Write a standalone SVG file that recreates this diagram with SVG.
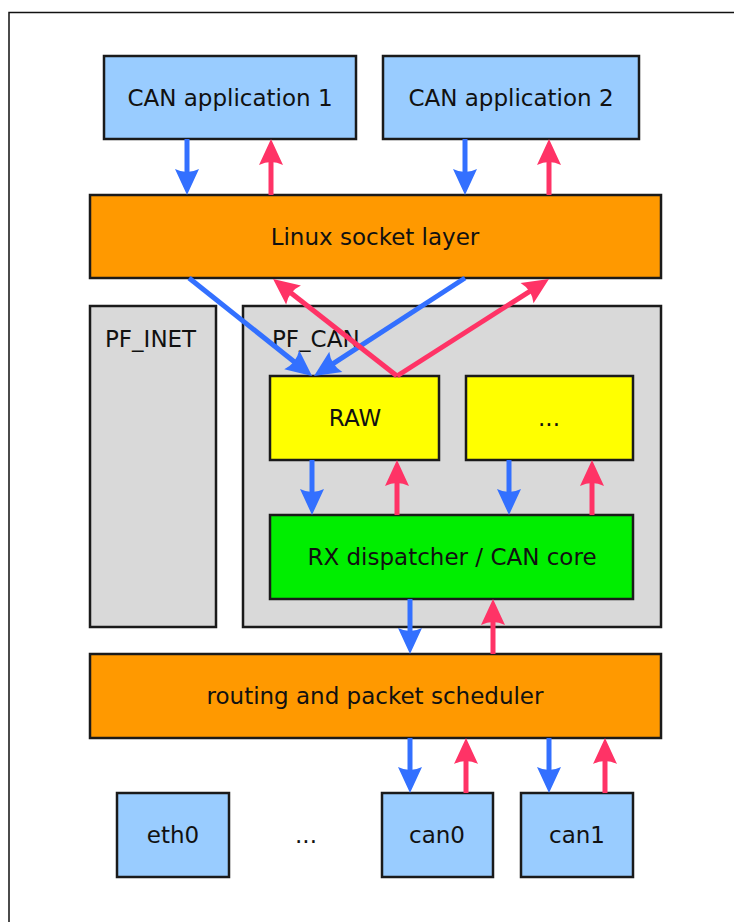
<svg xmlns="http://www.w3.org/2000/svg" width="734" height="922" viewBox="0 0 734 922">
<style>
.box{stroke:#1a1a1a;stroke-width:2.5}
.app{fill:#99ccff}
.orange{fill:#ff9900}
.gray{fill:#d9d9d9}
.yellow{fill:#ffff00}
.green{fill:#00ee00}
text{font-family:"DejaVu Sans","Liberation Sans",sans-serif;font-size:23px;fill:#111}
.c{text-anchor:middle}
.down{stroke:#3370ff;stroke-width:5;fill:none;marker-end:url(#hb)}
.up{stroke:#ff3366;stroke-width:5;fill:none;marker-end:url(#hr)}
</style>
<defs>
<marker id="hb" markerUnits="userSpaceOnUse" orient="auto" markerWidth="40" markerHeight="40" refX="0" refY="0" overflow="visible">
<path d="M20,0 L-6,-12 Q0,0 -6,12 Z" fill="#3370ff"/>
</marker>
<marker id="hr" markerUnits="userSpaceOnUse" orient="auto" markerWidth="40" markerHeight="40" refX="0" refY="0" overflow="visible">
<path d="M20,0 L-6,-12 Q0,0 -6,12 Z" fill="#ff3366"/>
</marker>
</defs>
<rect width="734" height="922" fill="#fff"/>
<path d="M9,922 V12.5 H734" fill="none" stroke="#111" stroke-width="1.5"/>

<g id="pf_inet"><rect class="box gray" x="90" y="306" width="126" height="321"/><text x="105" y="347">PF_INET</text></g>
<g id="pf_can"><rect class="box gray" x="243" y="306" width="418" height="321"/><text x="272" y="347">PF_CAN</text></g>

<g id="app1"><rect class="box app" x="104" y="56" width="252" height="83"/><text class="c" x="230" y="106">CAN application 1</text></g>
<g id="app2"><rect class="box app" x="383" y="56" width="256" height="83"/><text class="c" x="511" y="106">CAN application 2</text></g>
<g id="socket"><rect class="box orange" x="90" y="195" width="571" height="83"/><text class="c" x="375" y="245">Linux socket layer</text></g>
<g id="raw"><rect class="box yellow" x="270" y="376" width="169" height="84"/><text class="c" x="355" y="426">RAW</text></g>
<g id="other"><rect class="box yellow" x="466" y="376" width="167" height="84"/><text class="c" x="549" y="426">...</text></g>
<g id="rx"><rect class="box green" x="270" y="515" width="363" height="84"/><text class="c" x="452" y="565">RX dispatcher / CAN core</text></g>
<g id="routing"><rect class="box orange" x="90" y="654" width="571" height="84"/><text class="c" x="375" y="704">routing and packet scheduler</text></g>
<g id="eth0"><rect class="box app" x="117" y="793" width="112" height="84"/><text class="c" x="173" y="843">eth0</text></g>
<g id="dots"><text class="c" x="306" y="843">...</text></g>
<g id="can0"><rect class="box app" x="382" y="793" width="111" height="84"/><text class="c" x="437" y="843">can0</text></g>
<g id="can1"><rect class="box app" x="521" y="793" width="112" height="84"/><text class="c" x="577" y="843">can1</text></g>

<g id="connectors">
<path class="down" d="M187,139 V175"/>
<path class="up" d="M271,195 V159"/>
<path class="down" d="M465,139 V175"/>
<path class="up" d="M549,195 V159"/>
<path class="down" d="M189,278 L296.4,363.5"/>
<path class="down" d="M465,278 L330.8,365.1"/>
<path class="up" d="M397,376 L288.8,291.3"/>
<path class="up" d="M397,376 L532.1,289.8"/>
<path class="down" d="M312,460 V495"/>
<path class="up" d="M397,515 V480"/>
<path class="down" d="M509,460 V495"/>
<path class="up" d="M592,515 V480"/>
<path class="down" d="M410,599 V634"/>
<path class="up" d="M493,654 V619"/>
<path class="down" d="M410,738 V773"/>
<path class="up" d="M466,793 V758"/>
<path class="down" d="M549,738 V773"/>
<path class="up" d="M605,793 V758"/>
</g>
</svg>
